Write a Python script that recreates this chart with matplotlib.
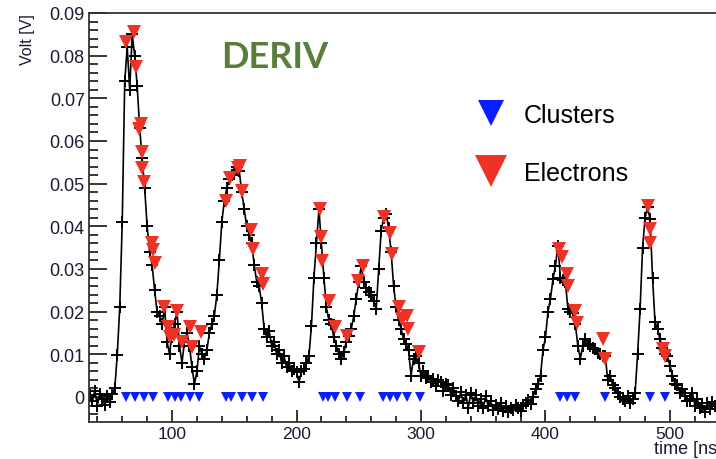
import numpy as np
import matplotlib.pyplot as plt
from matplotlib.ticker import MultipleLocator, FuncFormatter

# sampled waveform, one sample every 2 ns starting at 34 ns (values in mV)
t0 = 34
dt = 2
volt_mv = [
    0.5, -1.0, 1.5, -2.0, 0.8, -0.5, -1.8, 0.3, -1.2, 0.6,          # 34-52
    2.0, 9.9, 21, 41, 74, 82, 72, 85, 80, 73,                       # 54-72
    63, 56, 49, 40, 34, 31, 25, 20, 19, 17,                         # 74-92
    21, 13, 10, 15, 17, 20, 12, 8, 13, 15,                          # 94-112
    12, 7, 3, 6, 12, 10, 9, 11, 15, 17,                             # 114-132
    19, 24, 32, 41, 46, 49, 51, 52, 52.5, 54,                       # 134-152
    53, 48, 44, 40, 38, 36, 31, 27, 26, 22,                         # 154-172
    16, 14, 15.5, 12, 13, 10, 11, 8, 9.5, 7,                        # 174-192
    8, 6, 6.5, 5.8, 3.5, 6, 6.6, 8, 9.7, 16.7,                      # 194-212
    28, 36, 44, 36, 28, 21, 18, 17, 14, 12,                         # 214-232
    10, 9, 10.5, 13, 14.3, 16, 19, 23, 27, 30.7,                    # 234-252
    27, 25.5, 24.5, 24, 22.5, 20.6, 30, 39, 42, 43,                 # 254-272
    39.5, 34, 26, 21, 18, 16, 13.6, 12.5, 11, 5,                    # 274-292
    9, 9.5, 8, 5, 6, 4.5, 5, 3.5, 4.2, 2.5,                         # 294-312
    4, 3.5, 1.5, 3, 2.7, 0.5, 2, 0.3, -1, 1.2,                      # 314-332
    -1.5, 0.5, -2.5, 1, -1.5, 0.5, -2.0, -0.5, -2.5, 0.2,           # 334-352
    -2.2, -1, -3.0, -1.8, -2.8, -1.5, -3.2, -2, -3.6, -2.5,         # 354-372
    -3, -1.8, -2.5, -3.3, -2, -1.5, -0.8, -1.6, 0, 1.9,             # 374-392
    3, 5, 11, 14, 20, 23, 27.6, 30.7, 35.5, 28,                     # 394-412
    27.5, 27, 20.6, 20, 19.8, 17, 12, 9, 12, 13.6,                  # 414-432
    12.5, 12, 11.5, 11.2, 10.4, 10, 9.7, 9.7, 4, 5,                 # 434-452
    2.7, 2, 1, 0, -0.5, -1, 0.3, -1.5, -0.5, 1,                     # 454-472
    10, 20.6, 35, 42, 44.5, 41.7, 28, 17.5, 16, 13.5,               # 474-492
    11.5, 10, 9.5, 7.3, 5, 3, 2.7, 1, 1.9, 0.2,                     # 494-512
    -1, -0.5, 1, -2, -0.5, -2.5, -2, -3.5, -1.5, -2.8,              # 514-532
    -1.2, -2,                                                       # 534-536
]

# electrons found by the derivative algorithm (ns, mV)
elec_t = [62.8, 69.5, 70.8, 73.5, 74.9, 75.7, 76.1, 77.5, 83.7, 85.1,
          86.3, 93.6, 96.8, 98.0, 101.6, 104.0, 107.8, 114.7, 116.1, 123.3,
          143.1, 146.6, 153.3, 154.6, 156.0, 163.5, 165.3, 172.0, 172.8,
          218.9, 219.7, 220.6, 226.4, 230.9, 240.2, 249.6, 253.2, 270.3, 275.1,
          276.4, 282.6, 284.5, 288.5, 289.8, 298.6,
          411.1, 413.0, 417.5, 418.3, 423.7, 425.0, 446.4, 447.8,
          482.1, 483.9, 483.9, 494.6, 496.0]
elec_mv = [83.2, 85.6, 77.4, 62.9, 64.1, 57.5, 53.6, 50.5, 36.0, 34.4,
           31.4, 21.2, 16.3, 14.0, 14.6, 20.2, 12.9, 16.4, 11.7, 15.3,
           45.9, 51.4, 53.7, 54.1, 48.3, 39.2, 34.6, 28.8, 26.4,
           44.0, 37.4, 31.8, 22.5, 16.3, 14.3, 27.2, 30.7, 42.2, 38.5,
           33.5, 21.2, 18.3, 19.0, 15.9, 10.5,
           34.6, 32.7, 28.8, 26.0, 20.2, 17.3, 13.6, 8.9,
           44.8, 39.3, 36.2, 11.2, 9.7]

# clusters (ns), drawn on the zero line
clus_t = [63.0, 70.3, 77.5, 84.7, 96.8, 102.4, 107.2, 114.5, 121.7,
          143.4, 147.4, 156.2, 164.3, 173.1,
          221.5, 225.5, 230.9, 240.3, 251.0,
          269.7, 275.1, 280.5, 288.5, 299.2,
          411.6, 417.0, 423.7, 447.8, 483.9, 496.0]

plt.rcParams['font.family'] = ['Liberation Sans', 'DejaVu Sans']

time = t0 + dt * np.arange(len(volt_mv))
volt = np.array(volt_mv) / 1000.0
elec_v = np.array(elec_mv) / 1000.0

fig = plt.figure(figsize=(7.16, 4.60), dpi=100)
ax = fig.add_axes([89 / 716, 37 / 460, 633 / 716, 409 / 460])

ax.plot(time, volt, '-', color='black', lw=1.2, marker='+', ms=8, mew=1.4, zorder=2)
ax.plot(clus_t, np.zeros(len(clus_t)), 'v', color='#0a1eff', ms=7.8, mew=0,
        label='Clusters', zorder=3)
ax.plot(elec_t, elec_v, 'v', color='#ee3326', ms=9.5, mew=0,
        label='Electrons', zorder=4)

ax.set_xlim(33.3, 541.8)
ax.set_ylim(-0.00586, 0.09)

ax.xaxis.set_major_locator(MultipleLocator(100))
ax.xaxis.set_minor_locator(MultipleLocator(20))
ax.yaxis.set_major_locator(MultipleLocator(0.01))
ax.yaxis.set_minor_locator(MultipleLocator(0.002))
ax.yaxis.set_major_formatter(FuncFormatter(lambda v, p: '0' if abs(v) < 1e-9 else '%.2f' % v))

lab_col = '#1a1a33'
ax.tick_params(axis='y', which='major', direction='in', length=13, width=1.1,
               labelsize=13, pad=3, labelcolor=lab_col)
ax.tick_params(axis='y', which='minor', direction='in', length=6.5, width=1.1)
ax.tick_params(axis='x', which='major', direction='in', length=8.5, width=1.1,
               labelsize=12.5, pad=3, labelcolor=lab_col)
ax.tick_params(axis='x', which='minor', direction='in', length=4.3, width=1.1)
for s in ['left', 'bottom', 'top']:
    ax.spines[s].set_linewidth(1.3)
    ax.spines[s].set_color('#333333')
ax.spines['right'].set_visible(False)

ax.set_xlabel('time [ns]', loc='right', fontsize=13, color=lab_col)
ax.xaxis.set_label_coords(1.0, -0.045)
ax.set_ylabel('Volt [V]', loc='top', fontsize=11.5, color=lab_col)
ax.yaxis.set_label_coords(-0.085, 1.0)

ax.text(182.7, 0.0797, 'DERIV', fontsize=26, fontweight='bold', family='Lato',
        color='#5a7d3a', ha='center', va='center')

leg = ax.legend(loc='upper left', bbox_to_anchor=(476 / 716, 1 - 104 / 460),
                bbox_transform=fig.transFigure, frameon=False, fontsize=18,
                markerscale=2.35, handlelength=1.2, handletextpad=0.7,
                labelspacing=1.36, borderpad=0, borderaxespad=0)

fig.savefig('out.png', dpi=100)
